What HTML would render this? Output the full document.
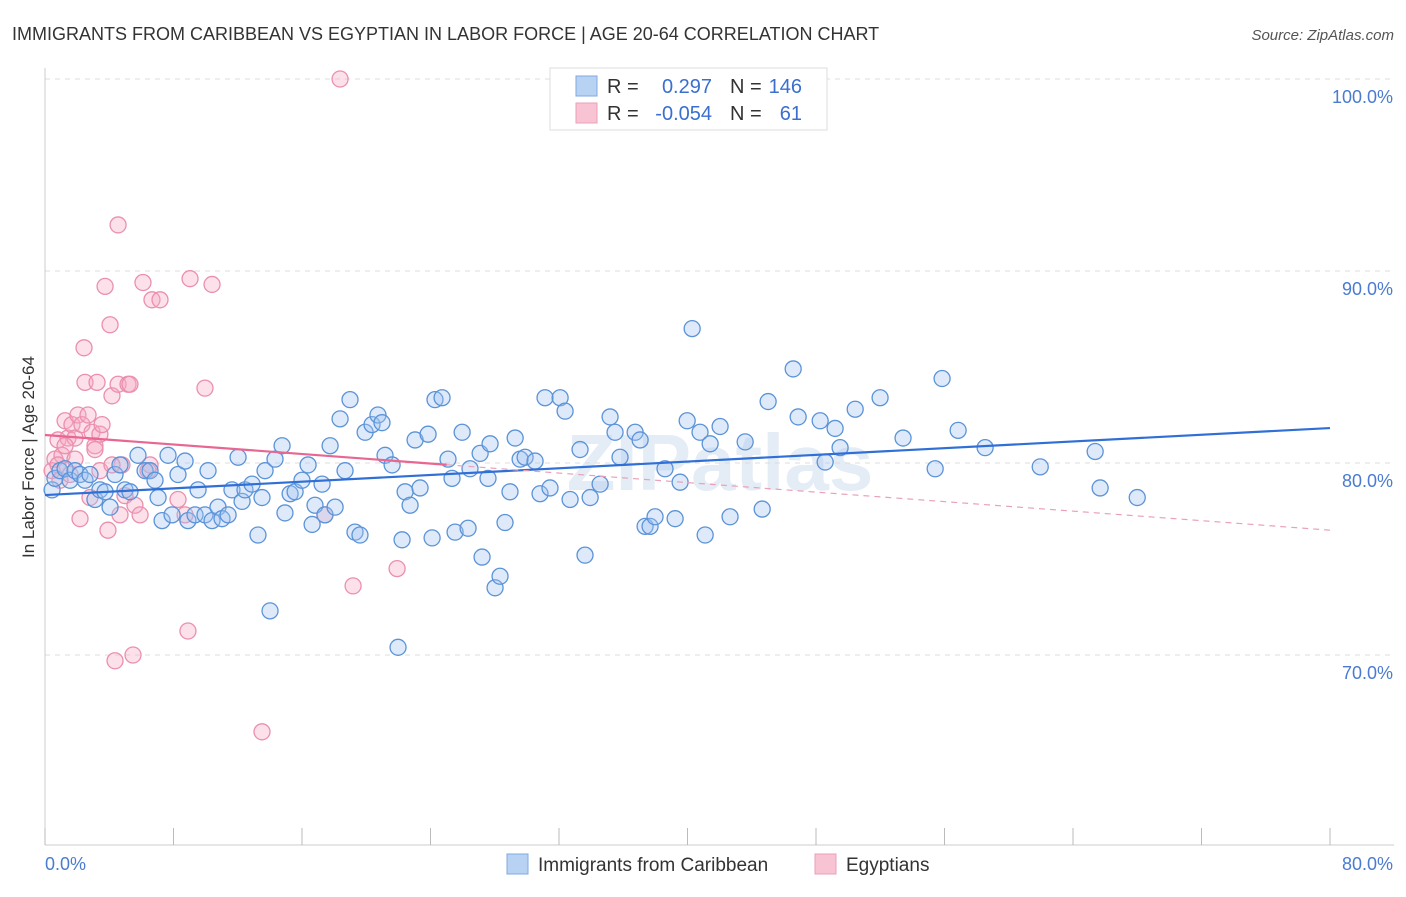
<!DOCTYPE html>
<html><head><meta charset="utf-8"><style>
body{margin:0;background:#fff;font-family:"Liberation Sans",sans-serif}
svg text{font-family:"Liberation Sans",sans-serif}
</style></head><body>
<svg id="chart" width="1406" height="892" xmlns="http://www.w3.org/2000/svg">
<text x="12" y="40" font-size="18" fill="#333">IMMIGRANTS FROM CARIBBEAN VS EGYPTIAN IN LABOR FORCE | AGE 20-64 CORRELATION CHART</text>
<text x="1394" y="40" font-size="15" fill="#555" font-style="italic" text-anchor="end">Source: ZipAtlas.com</text>
<text x="720" y="490" font-size="80" fill="#e4ecf6" text-anchor="middle" font-weight="bold">ZIPatlas</text>
<g id="grid"></g>
<g id="axes"></g>
<g id="points"></g>
<g id="lines"></g>
<text transform="translate(34,457) rotate(-90)" font-size="17" fill="#333" text-anchor="middle">In Labor Force | Age 20-64</text>
<g>
<rect x="550" y="68" width="277" height="62" fill="#fff" stroke="#ddd"/>
<rect x="576" y="76" width="21" height="20" fill="#b8d2f4" stroke="#7fa9e0"/>
<rect x="576" y="103" width="21" height="20" fill="#f8c4d4" stroke="#eaa0b8"/>
<text x="607" y="93" font-size="20" fill="#333">R =</text>
<text x="712" y="93" font-size="20" fill="#3a6fd0" text-anchor="end">0.297</text>
<text x="730" y="93" font-size="20" fill="#333">N =</text>
<text x="802" y="93" font-size="20" fill="#3a6fd0" text-anchor="end">146</text>
<text x="607" y="120" font-size="20" fill="#333">R =</text>
<text x="712" y="120" font-size="20" fill="#3a6fd0" text-anchor="end">-0.054</text>
<text x="730" y="120" font-size="20" fill="#333">N =</text>
<text x="802" y="120" font-size="20" fill="#3a6fd0" text-anchor="end">61</text>
</g>
<g>
<rect x="507" y="854" width="21" height="20" fill="#b8d2f4" stroke="#7fa9e0"/>
<text x="538" y="871" font-size="19" fill="#333">Immigrants from Caribbean</text>
<rect x="815" y="854" width="21" height="20" fill="#f8c4d4" stroke="#eaa0b8"/>
<text x="846" y="871" font-size="19" fill="#333">Egyptians</text>
</g>
</svg>
<script>
const blueX=[0.44,0.62,0.93,1.25,1.56,1.87,2.18,2.49,2.8,3.11,3.42,3.74,4.05,4.36,4.67,4.98,5.29,5.79,6.23,6.54,6.85,7.04,7.29,7.66,7.91,8.28,8.72,8.9,9.34,9.53,9.96,10.15,10.4,10.77,11.02,11.4,11.64,12.02,12.27,12.45,12.89,13.26,13.51,13.7,14.01,14.32,14.76,14.94,15.26,15.57,16.0,16.38,16.63,16.81,17.25,17.43,17.75,18.06,18.37,18.68,18.99,19.3,19.61,19.93,20.36,20.73,20.98,21.17,21.61,21.98,22.23,22.42,22.73,23.04,23.35,23.85,24.1,24.28,24.72,25.09,25.34,25.53,25.97,26.34,26.46,27.09,27.21,27.58,27.71,28.02,28.33,28.64,28.95,29.27,29.58,29.89,30.51,30.82,31.13,31.44,32.07,32.38,32.69,33.31,33.62,33.94,34.56,35.18,35.49,35.8,36.74,37.05,37.36,37.67,37.98,38.6,39.23,39.54,39.98,40.29,40.78,41.1,41.41,42.03,42.65,43.59,44.65,45.02,46.58,46.89,48.26,48.57,49.19,49.5,50.44,51.99,53.42,55.42,55.85,56.85,58.53,61.96,65.38,65.69,68.0];
const blueY=[78.6,79.2,79.6,79.7,79.1,79.6,79.4,79.1,79.4,78.1,78.6,78.5,77.7,79.4,79.9,78.6,78.5,80.4,79.6,79.6,79.1,78.2,77.0,80.4,77.3,79.4,80.1,77.0,77.3,78.6,77.3,79.6,77.0,77.7,77.1,77.3,78.6,80.3,78.0,78.6,78.9,76.25,78.2,79.6,72.3,80.2,80.9,77.4,78.4,78.5,79.1,79.9,76.8,77.8,78.9,77.3,80.9,77.7,82.3,79.6,83.3,76.4,76.25,81.6,82.0,82.5,82.1,80.4,79.9,70.4,76.0,78.5,77.8,81.2,78.7,81.5,76.1,83.3,83.4,80.2,79.2,76.4,81.6,76.6,79.7,80.5,75.1,79.2,81.0,73.5,74.1,76.9,78.5,81.3,80.2,80.3,80.1,78.4,83.4,78.7,83.4,82.7,78.1,80.7,75.2,78.2,78.9,82.4,81.6,80.3,81.6,81.2,76.7,76.7,77.2,79.7,77.1,79.0,82.2,87.0,81.6,76.25,81.0,81.9,77.2,81.1,77.6,83.2,84.9,82.4,82.2,80.05,81.8,80.8,82.8,83.4,81.3,79.7,84.4,81.7,80.8,79.8,80.6,78.7,78.2];
const pinkX=[0.44,0.62,0.81,0.93,1.06,1.25,1.43,1.56,1.68,1.87,2.05,2.18,2.3,2.43,2.49,2.68,2.8,2.93,3.11,3.24,3.42,3.55,3.74,3.92,4.05,4.17,4.36,4.55,4.67,4.79,4.98,5.17,5.29,5.48,5.6,5.92,6.1,6.41,6.66,7.16,8.28,8.72,8.9,9.03,9.96,10.4,13.51,17.43,18.37,19.18,21.92,4.55,0.81,1.87,3.11,1.25,3.42,4.17,6.54];
const pinkY=[79.6,80.2,81.2,79.1,80.4,82.2,81.3,79.4,82.0,81.3,82.5,77.1,82.0,86.0,84.2,82.5,78.2,81.6,80.9,84.2,81.5,82.0,89.2,76.5,87.2,83.5,69.7,84.1,77.3,79.9,78.3,84.1,84.1,70.0,77.8,77.3,89.4,79.6,88.5,88.5,78.1,77.3,71.25,89.6,83.9,89.3,66.0,77.3,100.0,73.6,74.5,92.4,79.9,80.2,80.7,80.9,79.6,79.9,79.9];
const blueTrend=[78.33,81.82];
const pinkTrend=[81.46,76.5];
const yTicks=[100,90,80,70];
const xTickLabels=["0.0%","80.0%"];
const NS="http://www.w3.org/2000/svg";
const X=v=>45+(v/80)*1285;
const Y=v=>463-(v-80)*19.2;
function mk(tag,attrs,parent){const e=document.createElementNS(NS,tag);for(const k in attrs)e.setAttribute(k,attrs[k]);document.getElementById(parent).appendChild(e);return e;}
yTicks.forEach(t=>{
 const l=mk('line',{x1:45,x2:1394,y1:Y(t),y2:Y(t),stroke:'#ddd','stroke-dasharray':'5,5'},'grid');
 
 
 const tx=mk('text',{x:1393,y:Y(t)+24,'font-size':18,fill:'#4a7bd0','text-anchor':'end'},'axes');
 tx.textContent=t.toFixed(1)+'%';
 
 
});
mk('line',{x1:45,x2:45,y1:68,y2:845,stroke:'#ccc'},'axes');
mk('line',{x1:45,x2:1394,y1:845,y2:845,stroke:'#ccc'},'axes');
for(let i=0;i<=10;i++){const l=mk('line',{x1:X(i*8),x2:X(i*8),y1:828,y2:845,stroke:'#bbb'},'axes');
 
 }
const xl0=mk('text',{x:45,y:870,'font-size':18,fill:'#4a7bd0'},'axes');xl0.textContent=xTickLabels[0];


const xl1=mk('text',{x:1393,y:870,'font-size':18,fill:'#4a7bd0','text-anchor':'end'},'axes');xl1.textContent=xTickLabels[1];


pinkX.forEach((v,i)=>{const c=mk('circle',{cx:X(v),cy:Y(pinkY[i]),r:8,fill:'rgba(245,170,195,0.35)',stroke:'#eb8fae','stroke-width':1.3},'points');
 
 });
blueX.forEach((v,i)=>{const c=mk('circle',{cx:X(v),cy:Y(blueY[i]),r:8,fill:'rgba(160,195,240,0.35)',stroke:'#5b93d8','stroke-width':1.3},'points');
 
 });
const bl=mk('line',{x1:X(0),y1:Y(blueTrend[0]),x2:X(80),y2:Y(blueTrend[1]),stroke:'#2f6fd6','stroke-width':2.2},'lines');


const pm=pinkTrend[0]+(pinkTrend[1]-pinkTrend[0])*(25/80);
const ps=mk('line',{x1:X(0),y1:Y(pinkTrend[0]),x2:X(25),y2:Y(pm),stroke:'#e8668f','stroke-width':2.2},'lines');


const pd=mk('line',{x1:X(25),y1:Y(pm),x2:X(80),y2:Y(pinkTrend[1]),stroke:'#eaa0b8','stroke-width':1.2,'stroke-dasharray':'6,5'},'lines');


</script>
</body></html>
